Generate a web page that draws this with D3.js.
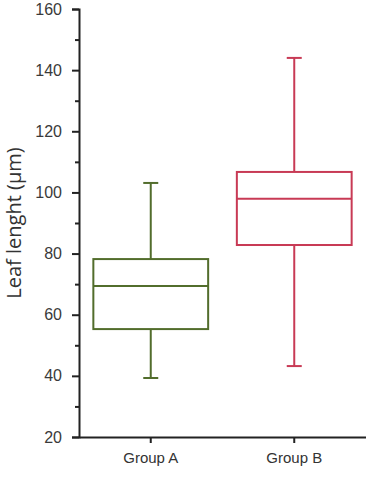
<!DOCTYPE html>
<html>
<head>
<meta charset="utf-8">
<script src="https://cdn.jsdelivr.net/npm/d3@7"></script>
<style>
  body { margin: 0; background: #fff; }
  svg { display: block; font-family: "Open Sans", "Noto Sans", sans-serif; }
</style>
</head>
<body>
<svg id="chart" width="366" height="481"></svg>
<script>
// Box plot data
const groups = ['Group A', 'Group B'];
const whiskerLow = [39.3, 43.2];
const quartile1 = [55.3, 82.8];
const medians = [69.4, 97.9];
const quartile3 = [78.2, 106.7];
const whiskerHigh = [103.1, 144.0];
const colors = ['#526d2c', '#c83a55'];

const majorTicks = [20, 40, 60, 80, 100, 120, 140, 160];
const minorTicks = [30, 50, 70, 90, 110, 130, 150];

const margin = { top: 9, right: 0, bottom: 44, left: 79 };
const width = 366, height = 481;

const svg = d3.select('#chart');

const y = d3.scaleLinear()
    .domain([20, 160])
    .range([height - margin.bottom, margin.top]);

const x = d3.scaleBand()
    .domain(groups)
    .range([margin.left, width - margin.right])
    .paddingInner(0.2)
    .paddingOuter(0.1);

const boxes = groups.map((g, i) => ({
    name: g,
    low: whiskerLow[i],
    q1: quartile1[i],
    med: medians[i],
    q3: quartile3[i],
    high: whiskerHigh[i],
    color: colors[i]
}));

// Y axis, major ticks with labels
const yAxis = svg.append('g')
    .attr('transform', `translate(${margin.left},0)`)
    .call(d3.axisLeft(y).tickValues(majorTicks).tickSize(7).tickPadding(10));
yAxis.select('.domain').attr('stroke', '#222').attr('stroke-width', 2);
yAxis.selectAll('.tick line').attr('stroke', '#222').attr('stroke-width', 2);
yAxis.selectAll('.tick text')
    .attr('fill', '#3a3a3a')
    .style('font-size', '16px');

// minor ticks
svg.append('g')
    .attr('transform', `translate(${margin.left},0)`)
    .call(d3.axisLeft(y).tickValues(minorTicks).tickSize(4).tickFormat(''))
    .call(g => g.select('.domain').remove())
    .selectAll('.tick line').attr('stroke', '#222').attr('stroke-width', 2);

// X axis
const xAxis = svg.append('g')
    .attr('transform', `translate(0,${height - margin.bottom})`)
    .call(d3.axisBottom(x).tickSize(6).tickSizeOuter(0).tickPadding(9));
xAxis.select('.domain').attr('stroke', '#222').attr('stroke-width', 2);
xAxis.selectAll('.tick line').attr('stroke', '#222').attr('stroke-width', 2);
xAxis.selectAll('.tick text')
    .attr('fill', '#333')
    .style('font-size', '15px');

// Y axis title
svg.append('text')
    .attr('transform', `translate(21,${(margin.top + height - margin.bottom) / 2}) rotate(-90)`)
    .attr('text-anchor', 'middle')
    .attr('fill', '#333')
    .style('font-size', '20px')
    .text('Leaf lenght (µm)');

// Boxes
const capHalf = 7.5;
const box = svg.append('g').selectAll('g')
    .data(boxes)
    .join('g')
    .attr('stroke', d => d.color)
    .attr('stroke-width', 2)
    .attr('fill', 'none');

box.append('line')
    .attr('x1', d => x(d.name) + x.bandwidth() / 2)
    .attr('x2', d => x(d.name) + x.bandwidth() / 2)
    .attr('y1', d => y(d.high))
    .attr('y2', d => y(d.q3));

box.append('line')
    .attr('x1', d => x(d.name) + x.bandwidth() / 2)
    .attr('x2', d => x(d.name) + x.bandwidth() / 2)
    .attr('y1', d => y(d.q1))
    .attr('y2', d => y(d.low));

box.append('line')
    .attr('x1', d => x(d.name) + x.bandwidth() / 2 - capHalf)
    .attr('x2', d => x(d.name) + x.bandwidth() / 2 + capHalf)
    .attr('y1', d => y(d.high))
    .attr('y2', d => y(d.high));

box.append('line')
    .attr('x1', d => x(d.name) + x.bandwidth() / 2 - capHalf)
    .attr('x2', d => x(d.name) + x.bandwidth() / 2 + capHalf)
    .attr('y1', d => y(d.low))
    .attr('y2', d => y(d.low));

box.append('rect')
    .attr('x', d => x(d.name))
    .attr('width', x.bandwidth())
    .attr('y', d => y(d.q3))
    .attr('height', d => y(d.q1) - y(d.q3));

box.append('line')
    .attr('x1', d => x(d.name))
    .attr('x2', d => x(d.name) + x.bandwidth())
    .attr('y1', d => y(d.med))
    .attr('y2', d => y(d.med));
</script>
</body>
</html>
